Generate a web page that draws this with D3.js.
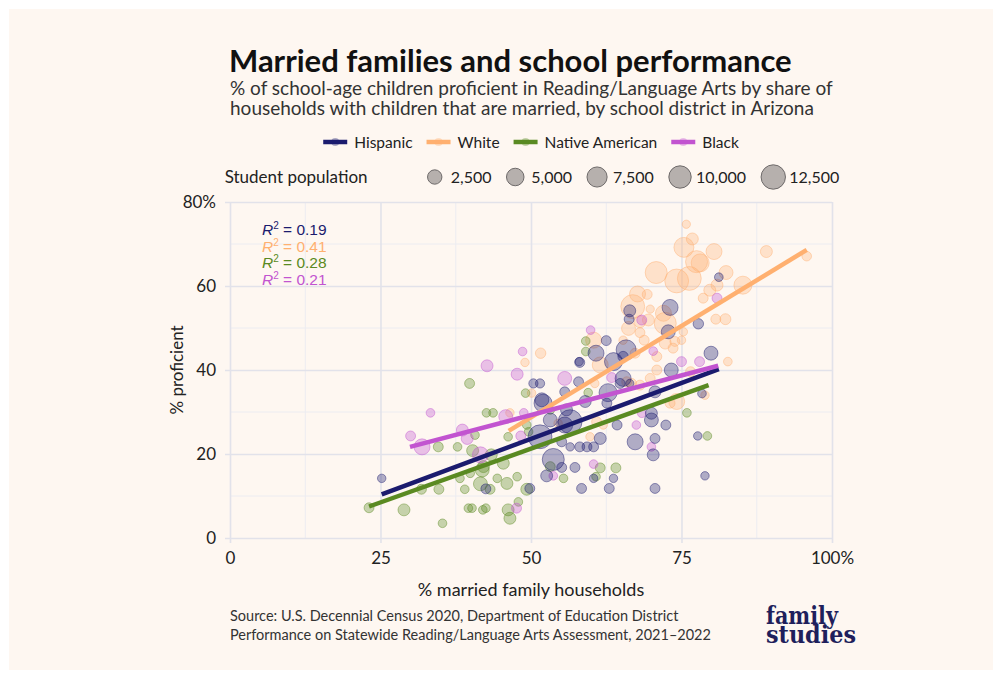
<!DOCTYPE html>
<html>
<head>
<meta charset="utf-8">
<script src="https://cdn.jsdelivr.net/npm/d3@7"></script>
<style>
  body { margin: 0; background: #fff; }
  svg { font-family: Lato, "Open Sans", sans-serif; }
</style>
</head>
<body>
<svg id="chart" width="1002" height="679"></svg>
<script>
// ---- data ----
const groups = ['Hispanic', 'White', 'Native American', 'Black'];
const groupColors = ['#1b1b6e', '#ffb070', '#5a8a22', '#c254d0'];
const rSquared = ['0.19', '0.41', '0.28', '0.21'];

// [married %, proficient %, student population]
const hispanicPts = [
  [81.2, 62.1, 500], [73.1, 54.9, 5800], [66.4, 54.1, 2500], [66.3, 52.1, 1200], [77.8, 51, 1500],
  [72.8, 49.1, 4000], [62.5, 47, 1200], [60.8, 44, 5800], [58.1, 41.8, 1200], [65.8, 44.8, 10000],
  [63.7, 42, 7800], [65.3, 43.2, 1500], [79.9, 44, 4000], [73.3, 40, 4000], [65.3, 38, 5800],
  [66.4, 36.8, 300], [64.8, 36.8, 1200], [62.8, 34.6, 7800], [70.6, 34.8, 2500], [78.4, 34.4, 500],
  [57.9, 37.2, 1200], [55.6, 34.8, 1200], [50.4, 36.8, 800], [51.5, 36.8, 800], [51.8, 32.9, 4000],
  [52, 32.1, 7800], [55.9, 30.5, 2500], [59, 32.5, 2500], [62.6, 32.1, 1200], [56.5, 27.7, 15000],
  [51.5, 24.1, 15000], [53.2, 28.1, 4000], [55.1, 22.9, 1200], [56.5, 21.7, 400], [58.1, 21.7, 1200],
  [59.3, 21.7, 1200], [60.4, 21.7, 1200], [61.5, 23.7, 2500], [64.3, 26.9, 1200], [67.3, 22.9, 5800],
  [70, 29.7, 2500], [70, 28.1, 4000], [70.6, 23.7, 1200], [70.3, 19.8, 2500], [72.4, 26.9, 1200],
  [77.7, 24.3, 400], [78.9, 14.8, 400], [53.7, 18.7, 12500], [55.1, 16.8, 1200], [57.3, 16.8, 1200],
  [52.6, 14.8, 2500], [58.4, 11.8, 1200], [60.4, 14.2, 400], [63.7, 14.2, 400], [63, 11.8, 1200],
  [70.6, 11.8, 1200], [49.8, 11.8, 1200], [42.5, 11.7, 1200], [25.2, 14.2, 400], [58, 42, 400],
  [55.6, 26.9, 5800]
];

const whitePts = [
  [75.8, 74.7, 300], [76.8, 71.2, 2500], [75.4, 69.2, 10000], [80.4, 68.2, 5800], [77.5, 65.8, 12500],
  [78.1, 65.5, 7800], [70.8, 63.2, 12500], [74.2, 61.2, 15000], [76.3, 61.8, 15000], [82.4, 63.2, 4000],
  [85.2, 60.2, 7800], [89.1, 68.2, 2500], [95.8, 67.1, 1000], [79.7, 59, 2500], [80.9, 60.2, 2500],
  [78.6, 57.1, 1200], [67.7, 58.1, 5800], [69.3, 58, 1200], [66.9, 55.1, 15000], [69.8, 54.5, 300],
  [72, 53.5, 5800], [72.3, 51.1, 12500], [69.5, 51.9, 2500], [68.1, 51.5, 2500], [66.2, 49.9, 4000],
  [68.1, 48.9, 1200], [80.7, 52.1, 1200], [82.3, 52.1, 1800], [68.8, 47.1, 1200], [72.3, 46.4, 2500],
  [73.9, 46.8, 1200], [73.6, 45.2, 1200], [75, 47.1, 400], [60.4, 47.1, 5800], [65.3, 47.1, 400],
  [67.3, 44, 1200], [70.9, 43.2, 1200], [61.5, 41.2, 5800], [70.9, 40, 1200], [82.7, 42, 500],
  [76.5, 39.6, 1200], [66.7, 36.8, 1200], [69.8, 38, 1200], [78.9, 34, 400], [75.3, 49.1, 400],
  [51.6, 44, 1500], [49, 41.8, 400], [46.5, 29.8, 400], [50.1, 34.5, 400], [60.6, 36.8, 400],
  [60.9, 27.7, 1200], [59.8, 24.1, 400], [74.2, 32.5, 5800], [73.1, 32.1, 1200], [65.9, 37.2, 1200],
  [68.1, 36.4, 1200], [54.5, 27.3, 400], [62, 26.9, 400]
];

const nativePts = [
  [23.1, 7.2, 1200], [28.9, 6.7, 2500], [35.3, 3.5, 500], [34.6, 21.7, 1200], [37.8, 21.7, 500],
  [31.8, 11.6, 1200], [34.7, 11.6, 1200], [39.8, 36.8, 1200], [42.6, 29.8, 500], [43.7, 29.8, 500],
  [40.7, 24.5, 500], [40.3, 20.8, 2500], [45.4, 17.8, 2500], [41.9, 16.2, 4000], [39.9, 15.4, 500],
  [39, 11.6, 500], [41.6, 12.9, 4000], [43.2, 11.6, 1200], [46, 13, 2500], [47.7, 14.6, 500],
  [44.4, 14.2, 500], [39.6, 7.1, 500], [40.2, 7.1, 500], [42, 6.7, 500], [46.2, 6.7, 2500],
  [46.5, 4.7, 2500], [42.5, 7.1, 500], [47.9, 8.6, 500], [49.1, 34.5, 500], [46.2, 24.1, 500],
  [38.2, 14.2, 500], [43.4, 19.8, 2500], [42.1, 17, 2500], [49.3, 11.6, 2500], [49.6, 25.3, 500],
  [49.3, 26.9, 500], [53.2, 30.5, 500], [55.4, 14.2, 500], [53.2, 17, 1200], [75.9, 29.8, 500],
  [79.3, 24.3, 500], [61.5, 16.7, 1200], [64.1, 16.7, 1200], [60.8, 14.6, 500], [59.1, 46.9, 500],
  [59.1, 44.4, 500], [59.5, 34.6, 500]
];

const blackPts = [
  [33.3, 29.8, 500], [30, 24.3, 1200], [31.9, 21.7, 5800], [38.6, 25.7, 2500], [39.4, 23.7, 2500],
  [41.6, 19.8, 5800], [45.8, 28.9, 4000], [48.3, 24.3, 1200], [47.6, 7.1, 1200], [42.7, 41, 2500],
  [47.7, 39, 2500], [48.6, 44.4, 500], [55.6, 38, 4000], [53.7, 14.8, 500], [48.8, 29.8, 500],
  [60.4, 17.6, 500], [67.5, 26.9, 500], [70, 21.7, 500], [59.9, 49.5, 500], [68.4, 51.9, 1200],
  [70.3, 44.5, 500], [75, 42, 1200], [78, 42, 1200], [80.9, 57.1, 1200], [63.4, 38.2, 1200],
  [68.4, 29.7, 500]
];

// fitted lines: [x start, y start, x end, y end]
const trendLines = [
  [25.2, 10.4, 81.2, 40.2],
  [46.3, 25.5, 95.8, 68.6],
  [23.1, 7.5, 79.5, 36.4],
  [29.9, 21.7, 81.1, 41.0]
];

const sizeBreaks = [2500, 5000, 7500, 10000, 12500];
const xTicks = [0, 25, 50, 75, 100];
const yTicks = [0, 20, 40, 60, 80];

// ---- layout ----
const svg = d3.select('#chart');
const margin = { top: 202, right: 170, bottom: 141, left: 230 };
const width = +svg.attr('width');
const height = +svg.attr('height');
const innerWidth = width - margin.left - margin.right;
const innerHeight = height - margin.top - margin.bottom;

svg.append('rect')
  .attr('x', 9).attr('y', 9)
  .attr('width', width - 18).attr('height', height - 18)
  .attr('fill', '#fef7f1');

const x = d3.scaleLinear().domain([0, 100]).range([0, innerWidth]);
const y = d3.scaleLinear().domain([0, 80]).range([innerHeight, 0]);
const rScale = d3.scaleRadial().domain([0, 12500]).range([3.8, 11]);

// titles
svg.append('text')
  .attr('x', 229).attr('y', 72)
  .attr('font-size', 31).attr('font-weight', 700).attr('fill', '#111')
  .text('Married families and school performance');

const subtitle = ['% of school-age children proficient in Reading/Language Arts by share of',
  'households with children that are married, by school district in Arizona'];
svg.append('g').selectAll('text')
  .data(subtitle)
  .enter()
  .append('text')
  .attr('x', 230).attr('y', (d, i) => 95 + i * 20)
  .attr('font-size', 19).attr('fill', '#333')
  .text(d => d);

// ---- legend row 1: groups ----
const leg1 = svg.append('g');
let cx = 0;
groups.forEach((name, i) => {
  const item = leg1.append('g').attr('transform', `translate(${cx},0)`);
  item.append('line')
    .attr('x1', 0).attr('x2', 24)
    .attr('stroke', groupColors[i]).attr('stroke-width', 4.5);
  item.append('circle')
    .attr('cx', 12).attr('r', 4)
    .attr('fill', groupColors[i]).attr('fill-opacity', 0.35);
  const t = item.append('text')
    .attr('x', 31).attr('y', 5.5)
    .attr('font-size', 15.5).attr('fill', '#222')
    .text(name);
  cx += 31 + t.node().getComputedTextLength() + 14;
});
leg1.attr('transform', `translate(${531 - (cx - 14) / 2},142)`);

// ---- legend row 2: student population ----
const leg2 = svg.append('g');
const lt = leg2.append('text')
  .attr('x', 0).attr('y', 6)
  .attr('font-size', 17).attr('fill', '#222')
  .text('Student population');
let sx = lt.node().getComputedTextLength() + 60;
sizeBreaks.forEach(v => {
  const r = rScale(v) + 1.2;
  leg2.append('circle')
    .attr('cx', sx + r).attr('r', r)
    .attr('fill', '#8f8a89').attr('fill-opacity', 0.65)
    .attr('stroke', '#6e6a6a').attr('stroke-width', 1);
  const t = leg2.append('text')
    .attr('x', sx + r + 16).attr('y', 5.5)
    .attr('font-size', 16).attr('fill', '#222')
    .text(d3.format(',')(v));
  sx += r + 16 + t.node().getComputedTextLength() + 15;
});
leg2.attr('transform', `translate(${532 - (sx - 15) / 2},177)`);

// ---- panel ----
const g = svg.append('g')
  .attr('transform', `translate(${margin.left},${margin.top})`);

const xMinor = d3.range(12.5, 100, 25);
const yMinor = d3.range(10, 80, 20);

g.append('g').selectAll('line')
  .data(xMinor).enter().append('line')
  .attr('x1', d => x(d)).attr('x2', d => x(d))
  .attr('y1', 0).attr('y2', innerHeight)
  .attr('stroke', '#ececf1').attr('stroke-width', 1);
g.append('g').selectAll('line')
  .data(yMinor).enter().append('line')
  .attr('x1', 0).attr('x2', innerWidth)
  .attr('y1', d => y(d)).attr('y2', d => y(d))
  .attr('stroke', '#ececf1').attr('stroke-width', 1);

const xAxis = g.append('g')
  .attr('transform', `translate(0,${innerHeight})`)
  .call(d3.axisBottom(x).tickValues(xTicks).tickSize(-innerHeight).tickSizeOuter(0).tickPadding(14)
    .tickFormat(d => d === 100 ? '100%' : d));
const yAxis = g.append('g')
  .call(d3.axisLeft(y).tickValues(yTicks).tickSize(-innerWidth).tickSizeOuter(0).tickPadding(14)
    .tickFormat(d => d === 80 ? '80%' : d));

[xAxis, yAxis].forEach(ax => {
  ax.select('.domain').remove();
  ax.selectAll('.tick line').attr('stroke', '#e2e2ea').attr('stroke-width', 1.6);
  ax.selectAll('.tick text')
    .attr('font-family', 'Lato, sans-serif').attr('font-size', 17).attr('fill', '#222');
});
xAxis.selectAll('.tick line').attr('y1', 5);
yAxis.selectAll('.tick line').attr('x1', -5);

g.append('text')
  .attr('x', innerWidth / 2).attr('y', innerHeight + 58)
  .attr('text-anchor', 'middle')
  .attr('font-size', 18).attr('fill', '#222')
  .text('% married family households');
g.append('text')
  .attr('transform', `translate(-47,${innerHeight / 2}) rotate(-90)`)
  .attr('text-anchor', 'middle')
  .attr('font-size', 17).attr('fill', '#222')
  .text('% proficient');

// ---- points ----
const pointSets = [hispanicPts, whitePts, nativePts, blackPts];
const drawOrder = [1, 2, 3, 0];
drawOrder.forEach(i => {
  g.append('g').selectAll('circle')
    .data(pointSets[i])
    .enter()
    .append('circle')
    .attr('cx', d => x(d[0]))
    .attr('cy', d => y(d[1]))
    .attr('r', d => rScale(d[2]))
    .attr('fill', groupColors[i])
    .attr('fill-opacity', i === 1 ? 0.3 : 0.34)
    .attr('stroke', groupColors[i])
    .attr('stroke-opacity', 0.45)
    .attr('stroke-width', 1);
});

// ---- trend lines ----
g.append('g').selectAll('line')
  .data(trendLines)
  .enter()
  .append('line')
  .attr('x1', d => x(d[0])).attr('y1', d => y(d[1]))
  .attr('x2', d => x(d[2])).attr('y2', d => y(d[3]))
  .attr('stroke', (d, i) => groupColors[i])
  .attr('stroke-width', 4.5);

// ---- R squared labels ----
const r2 = g.append('g').style('font-family', '"Liberation Sans", Arial, sans-serif');
rSquared.forEach((v, i) => {
  const t = r2.append('text')
    .attr('x', 32).attr('y', 33 + i * 16.7)
    .attr('font-size', 15.5).attr('fill', groupColors[i]);
  t.append('tspan').attr('font-style', 'italic').text('R');
  t.append('tspan').attr('font-size', 10).attr('dy', -6).text('2');
  t.append('tspan').attr('dy', 6).text(' = ' + v);
});

// ---- footer ----
const source = ['Source: U.S. Decennial Census 2020, Department of Education District',
  'Performance on Statewide Reading/Language Arts Assessment, 2021\u20132022'];
svg.append('g').selectAll('text')
  .data(source)
  .enter()
  .append('text')
  .attr('x', 230).attr('y', (d, i) => 621 + i * 19)
  .attr('font-size', 14.5).attr('fill', '#333')
  .text(d => d);

const logo = svg.append('g')
  .style('font-family', '"DejaVu Serif", "Liberation Serif", serif')
  .attr('font-weight', 700).attr('fill', '#1f1f5c');
logo.append('text').attr('x', 766).attr('y', 624).attr('font-size', 24)
  .attr('textLength', 72).attr('lengthAdjust', 'spacingAndGlyphs').text('family');
logo.append('text').attr('x', 766).attr('y', 643).attr('font-size', 24)
  .attr('textLength', 90).attr('lengthAdjust', 'spacingAndGlyphs').text('studies');
</script>
</body>
</html>
